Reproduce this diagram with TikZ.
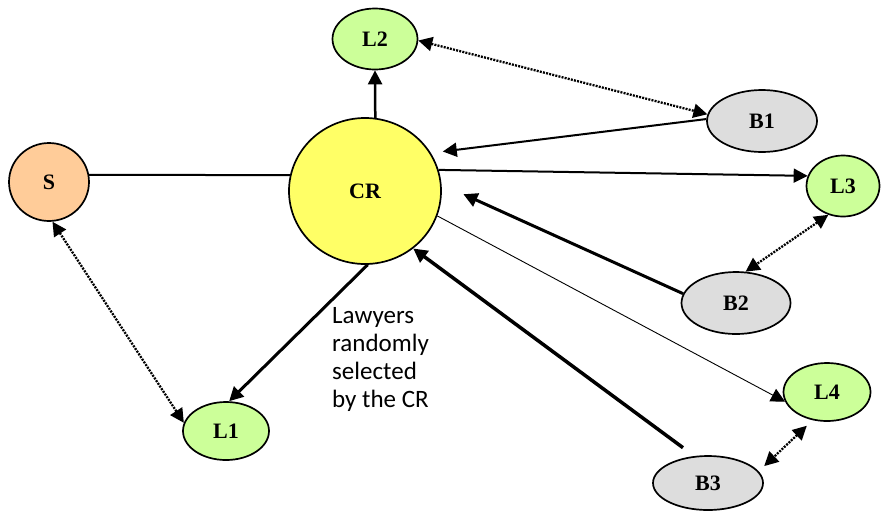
\documentclass[tikz,border=0pt]{standalone}
\usepackage{fontspec}
\usetikzlibrary{shapes.geometric,arrows.meta}
\newfontfamily\labelfont{Liberation Serif}
\newfontfamily\notefont{Carlito}
\definecolor{srcfill}{HTML}{FFCC99}
\definecolor{crfill}{HTML}{FFFF66}
\definecolor{lawfill}{HTML}{CCFF99}
\definecolor{bfill}{HTML}{DDDDDD}
\tikzset{
  x=1pt, y=-1pt,
  party/.style={ellipse, draw=black, line width=1.7pt, inner sep=0pt,
    font=\labelfont\bfseries\fontsize{22}{26}\selectfont},
  src/.style={party, fill=srcfill},
  crnode/.style={party, fill=crfill},
  lawyer/.style={party, fill=lawfill},
  bnode/.style={party, fill=bfill},
  tip/.tip={Triangle[length=14pt,width=14pt]},
  link/.style={draw=black, line width=#1},
  link/.default=2pt,
  oneway/.style={link=#1, -tip},
  oneway/.default=2pt,
  dotlink/.style={draw=black, line width=2.3pt, dash pattern=on 2pt off 1.2pt, tip-tip},
}
\begin{document}
\begin{tikzpicture}
  \useasboundingbox (0,0) rectangle (882,520);

  % parties
  \node[src,    minimum width=80pt,  minimum height=78pt]  (S)  at (49,182)  {S};
  \node[crnode, minimum width=152pt, minimum height=146pt] (CR) at (365,191) {CR};
  \node[lawyer, minimum width=85pt,  minimum height=61pt]  (L2) at (375,39)  {L2};
  \node[bnode,  minimum width=110pt, minimum height=62pt]  (B1) at (762,121) {B1};
  \node[lawyer, minimum width=73pt,  minimum height=61pt]  (L3) at (843,186) {L3};
  \node[bnode,  minimum width=109pt, minimum height=62pt]  (B2) at (736,303) {B2};
  \node[lawyer, minimum width=87pt,  minimum height=58pt]  (L4) at (827,392) {L4};
  \node[bnode,  minimum width=110pt, minimum height=54pt]  (B3) at (708,483) {B3};
  \node[lawyer, minimum width=86pt,  minimum height=58pt]  (L1) at (226,431) {L1};

  % note beside the CR -> L1 link
  \node[anchor=north west, inner sep=0pt, align=left,
        font=\notefont\fontsize{25}{28}\selectfont] (note) at (332,307)
        {Lawyers\\randomly\\selected\\by the CR};

  % solid links
  \draw[link=2pt] (S.10) -- (CR.168);
  \draw[oneway=2.5pt] (CR.82) -- (L2.south);
  \draw[oneway=2pt, shorten >=12pt] (B1.178) -- (CR.30);
  \draw[oneway=2pt] (CR.16) -- (L3.164);
  \draw[oneway=3pt, shorten >=24pt] (B2.170) -- (CR.5);
  \draw[oneway=0.9pt] (CR.-19) -- (L4.193);
  \draw[oneway=3.5pt, shorten <=14pt] (B3.117) -- (CR.-50);
  \draw[oneway=3pt] (CR.-88) -- (L1.84);

  % dotted two-way links
  \draw[dotlink] (L2.-2) -- (B1.173);
  \draw[dotlink] (L3.243) -- (B2.73);
  \draw[dotlink, shorten <=8pt, shorten >=7.6pt] (L4.243) -- (B3.13);
  \draw[dotlink] (S.275) -- (L1.169);
\end{tikzpicture}
\end{document}
